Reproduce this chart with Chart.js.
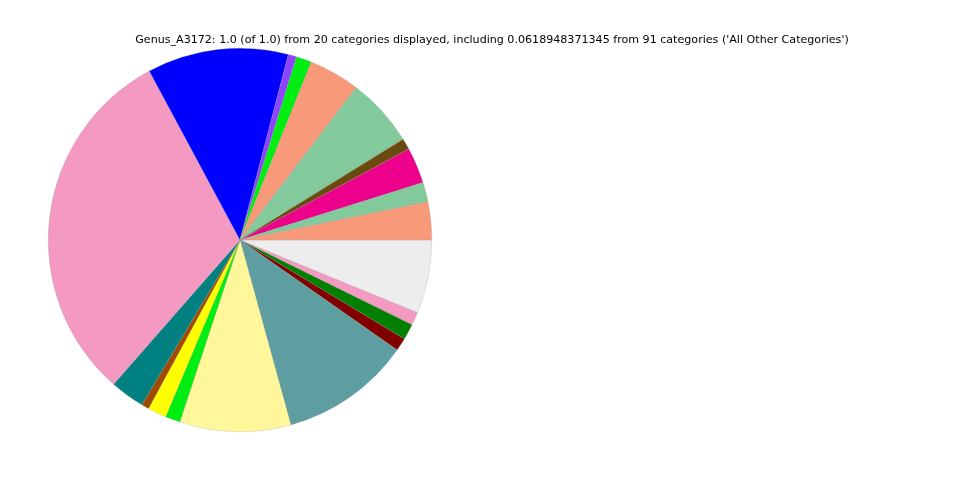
<!DOCTYPE html>
<html>
<head>
<meta charset="utf-8">
<script src="https://cdn.jsdelivr.net/npm/chart.js@4/dist/chart.umd.min.js"></script>
<style>
html,body{margin:0;padding:0;background:#fff;}
#wrap{position:relative;width:960px;height:480px;}
</style>
</head>
<body>
<div id="wrap"><canvas id="c" width="960" height="480"></canvas></div>
<script>
const titleText = "Genus_A3172: 1.0 (of 1.0) from 20 categories displayed, including 0.0618948371345 from 91 categories ('All Other Categories')";
// Slices in counter-clockwise order starting at 3 o'clock (as in the reference)
const categories = [
  "Category 1","Category 2","Category 3","Category 4","Category 5",
  "Category 6","Category 7","Category 8","Category 9","Category 10",
  "Category 11","Category 12","Category 13","Category 14","Category 15",
  "Category 16","Category 17","Category 18","Category 19","All Other Categories"
];
const values = [
  0.0320, 0.0164, 0.0303, 0.0094, 0.0583,
  0.0430, 0.0130, 0.0070, 0.1190, 0.3070,
  0.0290, 0.0064, 0.0158, 0.0125, 0.0936,
  0.1100, 0.0110, 0.0133, 0.0110, 0.0619
];
const colors = [
  "#F89A7A","#82C99C","#EC008C","#6B4A0E","#82C99C",
  "#F89A7A","#00EE11","#8E44FF","#0000FF","#F49AC2",
  "#008080","#A04A00","#FFFF00","#00EE11","#FFF799",
  "#5F9EA0","#800000","#008000","#F49AC2","#EDEDED"
];

// Chart.js draws clockwise, so reverse to get counter-clockwise order from 3 o'clock
const rLabels = categories.slice().reverse();
const rValues = values.slice().reverse();
const rColors = colors.slice().reverse();

const titlePlugin = {
  id: 'figTitle',
  afterDraw(chart) {
    const ctx = chart.ctx;
    ctx.save();
    ctx.font = "11.1px 'DejaVu Sans'";
    ctx.fillStyle = "#000";
    ctx.textAlign = "center";
    ctx.textBaseline = "middle";
    ctx.fillText(titleText, 492, 40);
    ctx.restore();
  }
};

new Chart(document.getElementById('c'), {
  type: 'pie',
  data: {
    labels: rLabels,
    datasets: [{
      data: rValues,
      backgroundColor: rColors,
      borderWidth: 0.4,
      borderColor: 'rgba(150,150,150,0.6)'
    }]
  },
  options: {
    responsive: false,
    animation: false,
    rotation: 90,
    layout: { padding: { left: 48, right: 528, top: 48, bottom: 48 } },
    plugins: {
      legend: { display: false },
      title: { display: false },
      tooltip: { enabled: false }
    }
  },
  plugins: [titlePlugin]
});
</script>
</body>
</html>
